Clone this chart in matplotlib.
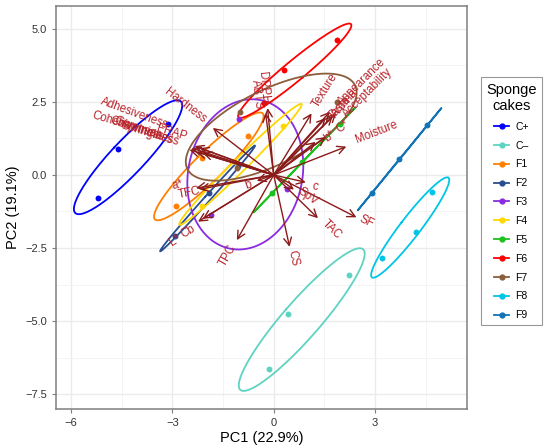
import numpy as np
import matplotlib
matplotlib.use("Agg")
import matplotlib.pyplot as plt
from matplotlib.lines import Line2D
from matplotlib.patches import FancyArrowPatch

plt.rcParams['font.family'] = ['Liberation Sans', 'DejaVu Sans']

# sample scores (3 replicates per sponge cake)
groups = ["C+", "C\u2013", "F1", "F2", "F3", "F4", "F5", "F6", "F7", "F8", "F9"]
colors = ["#0000FF", "#5FD3C2", "#FF8000", "#2A4D8F", "#8A2BE2", "#FFD700",
          "#1DC01D", "#FF0000", "#8B5E3C", "#00C5E6", "#1273B5"]
pc1 = [[-5.19, -4.61, -3.13],
       [-0.14, 0.41, 2.22],
       [-2.88, -2.12, -0.76],
       [-2.91, -1.91, -1.05],
       [-1.87, -1.03, 0.38],
       [-2.11, -1.12, 0.28],
       [-0.05, 0.84, 1.95],
       [-0.29, 0.30, 1.86],
       [-1.09, -0.99, 1.86],
       [3.20, 4.22, 4.70],
       [2.91, 3.72, 4.55]]
pc2 = [[-0.80, 0.88, 1.74],
       [-6.65, -4.77, -3.43],
       [-1.05, 0.59, 1.34],
       [-2.08, -0.63, 0.30],
       [-1.37, 1.92, -0.49],
       [-1.05, 0.45, 1.69],
       [-0.63, 0.43, 1.75],
       [2.48, 3.60, 4.62],
       [0.25, 2.15, 2.51],
       [-2.85, -1.96, -0.59],
       [-0.62, 0.54, 1.70]]

# variable loadings (arrow tips) and label positions
var_names = ["Hardness", "Adhesiveness", "Cohesiveness", "Chewiness", "Springiness",
             "Gumminess", "FRAP", "DPPH", "ABTS", "Texture", "Appearance",
             "Acceptability", "Aroma", "Taste", "b*", "C*", "Moisture", "c", "SpV",
             "TAC", "SF", "CS", "TPC", "L*", "Cb", "TFC", "a*", "b"]
load_pc1 = [-1.80, -2.34, -2.49, -2.43, -2.28, -2.19, -2.10, -0.18, -0.24, 1.12, 1.85,
            1.75, 1.66, 1.54, 1.24, 1.54, 2.15, 0.95, 0.60, 1.31, 2.45, 0.47, -1.09,
            -2.24, -2.10, -2.19, -2.30, -0.50]
load_pc2 = [1.61, 0.99, 0.86, 0.92, 0.79, 0.92, 0.75, 2.29, 2.12, 2.11, 2.11,
            2.02, 2.16, 1.95, 1.13, 1.30, 0.97, -0.25, -0.50, -1.48, -1.45, -2.46, -2.23,
            -1.60, -1.50, -0.49, -0.45, -0.20]
lab_pc1 = [-2.63, -4.11, -4.35, -4.05, -3.67, -3.85, -3.02, -0.30, -0.49, 1.51, 2.60,
           2.78, 2.10, 1.95, 1.66, 2.04, 3.04, 1.21, 1.01, 1.71, 2.74, 0.57, -1.35,
           -2.93, -2.54, -2.50, -2.85, -0.76]
lab_pc2 = [2.36, 2.09, 1.68, 1.58, 1.40, 1.50, 1.44, 2.98, 2.77, 2.91, 3.18,
           2.81, 2.45, 2.30, 1.34, 1.64, 1.48, -0.40, -0.75, -1.88, -1.60, -2.85, -2.74,
           -2.23, -1.95, -0.62, -0.35, -0.34]

arrow_col = "#8B1A1A"
text_col = "#B8232A"
level = 0.68


def ellipse(x, y, level, n=200):
    pts = np.column_stack([x, y])
    mu = pts.mean(axis=0)
    cov = np.cov(pts, rowvar=False)
    vals, vecs = np.linalg.eigh(cov)
    vals = np.clip(vals, 0, None)
    r = np.sqrt(-2 * np.log(1 - level))
    t = np.linspace(0, 2 * np.pi, n)
    circ = np.vstack([np.cos(t), np.sin(t)])
    e = vecs @ (np.sqrt(vals)[:, None] * circ) * r
    return mu[0] + e[0], mu[1] + e[1]


fig = plt.figure(figsize=(5.5, 4.46), dpi=100)
ax = fig.add_axes([0.102, 0.083, 0.747, 0.904])
ax.set_xlim(-6.44, 5.72)
ax.set_ylim(-8.01, 5.79)

ax.set_xticks([-6, -3, 0, 3])
ax.set_yticks([-7.5, -5.0, -2.5, 0.0, 2.5, 5.0])
ax.set_xticks([-4.5, -1.5, 1.5, 4.5], minor=True)
ax.set_yticks([-6.25, -3.75, -1.25, 1.25, 3.75], minor=True)
ax.grid(which='major', color="#EBEBEB", lw=1.0, zorder=0)
ax.grid(which='minor', color="#F2F2F2", lw=0.6, zorder=0)
ax.set_axisbelow(True)
ax.tick_params(which='minor', length=0)
ax.tick_params(which='major', length=3, color="#7F7F7F", labelsize=8, labelcolor="#333333")
for s in ax.spines.values():
    s.set_color("#7F7F7F")
    s.set_linewidth(1.1)

ax.set_xlabel("PC1 (22.9%)", fontsize=10.5, labelpad=2)
ax.set_ylabel("PC2 (19.1%)", fontsize=10.5, labelpad=4)

handles = []
for g, c, xs, ys in zip(groups, colors, pc1, pc2):
    ex, ey = ellipse(xs, ys, level)
    ax.plot(ex, ey, color=c, lw=1.3, zorder=2)
    ax.scatter(xs, ys, s=18, color=c, zorder=3, linewidths=0)
    handles.append(Line2D([0], [0], color=c, lw=1.3, marker='o', markersize=3.5))

sx = ax.bbox.width / (ax.get_xlim()[1] - ax.get_xlim()[0])
sy = ax.bbox.height / (ax.get_ylim()[1] - ax.get_ylim()[0])

for name, tx, ty, lx, ly in zip(var_names, load_pc1, load_pc2, lab_pc1, lab_pc2):
    arr = FancyArrowPatch((0, 0), (tx, ty), arrowstyle='->,head_length=0.55,head_width=0.28',
                          mutation_scale=10, color=arrow_col, lw=1.0,
                          shrinkA=0, shrinkB=0, zorder=4)
    ax.add_patch(arr)
    ang = np.degrees(np.arctan2(ty * sy, tx * sx))
    if ang > 90:
        ang -= 180
    elif ang < -90:
        ang += 180
    ax.text(lx, ly, name, rotation=ang, rotation_mode='anchor', ha='center', va='center',
            color=text_col, fontsize=8.3, zorder=5)

leg = fig.legend(handles, groups, title="Sponge\ncakes", loc='upper left',
                 bbox_to_anchor=(0.865, 0.838), fontsize=7.5, title_fontsize=10.5,
                 frameon=True, fancybox=False, edgecolor="#7F7F7F",
                 handlelength=1.5, handletextpad=0.6, labelspacing=0.85,
                 borderpad=0.5)
leg.get_title().set_multialignment('center')
leg._legend_box.align = "center"
leg.get_frame().set_linewidth(0.8)

fig.savefig("out.png", dpi=100)
